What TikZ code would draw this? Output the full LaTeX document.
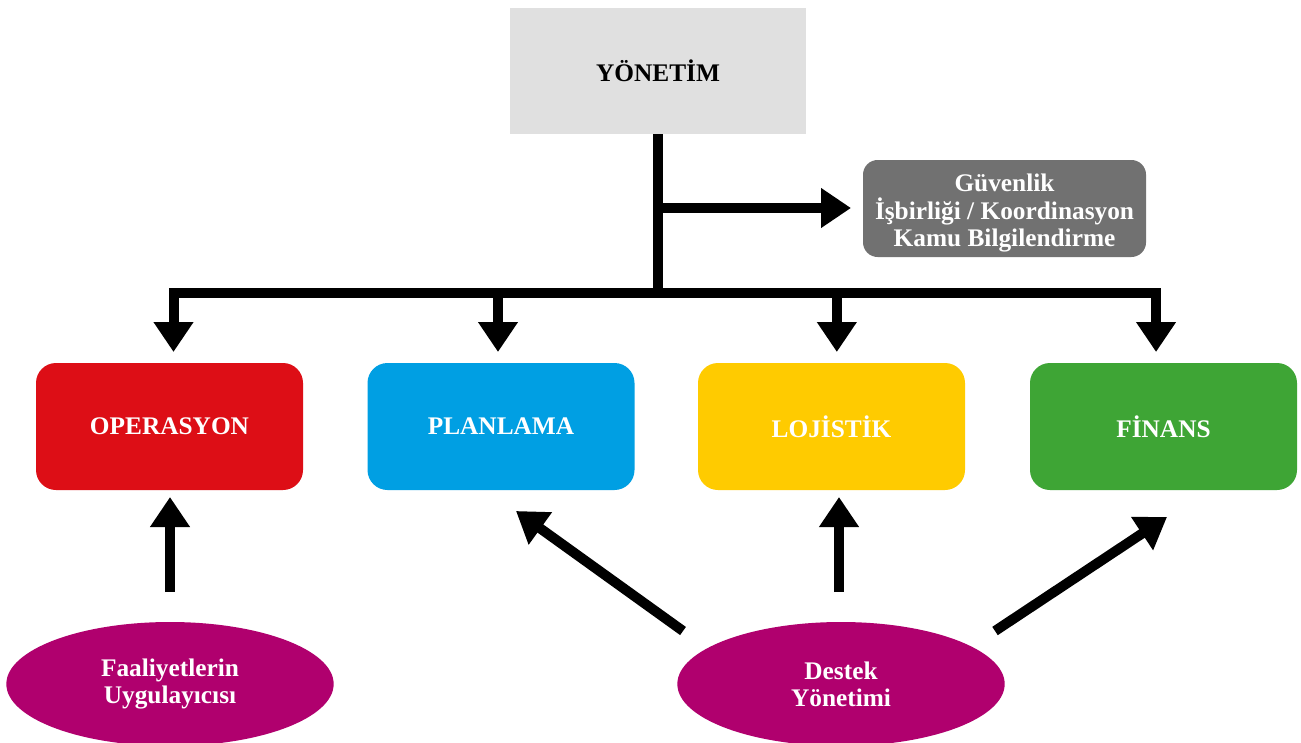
\documentclass[tikz,border=0pt]{standalone}
\usepackage{fontspec}
\setmainfont{Liberation Serif}
\usetikzlibrary{arrows.meta,shapes.geometric,calc}

\definecolor{headgray}{HTML}{E0E0E0}
\definecolor{staffgray}{HTML}{717171}
\definecolor{opsred}{HTML}{DD0E16}
\definecolor{planblue}{HTML}{009FE3}
\definecolor{logyellow}{HTML}{FFCB00}
\definecolor{fingreen}{HTML}{3EA535}
\definecolor{plum}{HTML}{B0006E}

\begin{document}
\begin{tikzpicture}[x=0.75pt,y=-0.75pt,
  lbl/.style={font=\fontsize{19}{20.5}\selectfont\bfseries, text=white, align=center,
              inner sep=0pt, outer sep=0pt},
  unit/.style={lbl, rounded corners=15pt, minimum width=200.25pt, minimum height=95.25pt},
  oval/.style={lbl, ellipse, fill=plum, minimum width=245.5pt, minimum height=93pt},
  bar/.style={line width=7.5pt, line join=miter},
  link/.style={bar, -{Triangle[length=22.5pt,width=28.5pt]}},
]
\useasboundingbox (0,0) rectangle (1301,742);
\fill[white] (0,0) rectangle (1301,742);

% head office
\node[lbl, text=black, fill=headgray, minimum width=222pt, minimum height=94.5pt]
  (yon) at (658,71) {YÖNETİM};

% staff functions: box and its three-line caption
\node[lbl, fill=staffgray, rounded corners=11pt, minimum width=212.25pt, minimum height=72.75pt]
  (staff) at (1004.5,208.5) {};
\node[lbl] (stafftext) at ([yshift=-3.5pt]staff.center)
  {Güvenlik\\İşbirliği / Koordinasyon\\Kamu Bilgilendirme};

% sections
\node[unit, fill=opsred]    (ops)  at (169.5,426.5)  {OPERASYON};
\node[unit, fill=planblue]  (plan) at (501,426.5)    {PLANLAMA};
\node[unit, fill=logyellow] (loj)  at (831.5,426.5)  {LOJİSTİK};
\node[unit, fill=fingreen]  (fin)  at (1163.5,426.5) {FİNANS};

% bottom groups
\node[oval] (fa) at (170,684) {Faaliyetlerin\\Uygulayıcısı};
\node[oval] (dm) at (841,684) {Destek\\Yönetimi};

% command tree
\coordinate (tap) at (658,208);
\coordinate (bus) at (658,293);
\draw[bar] (yon.south) -- (bus);
\draw[link, shorten >=9pt] (tap) -- (staff.west |- tap);
\draw[link, shorten >=8.25pt] (bus) -| ([xshift=3pt]ops.north);
\draw[link, shorten >=8.25pt] (bus) -| ([xshift=-2.25pt]plan.north);
\draw[link, shorten >=8.25pt] (bus) -| ([xshift=4pt]loj.north);
\draw[link, shorten >=8.25pt] (bus) -| ([xshift=-5.6pt]fin.north);

% support links
\draw[link, shorten <=22.5pt, shorten >=5.25pt] (fa.north) -- (fa.north |- ops.south);
\draw[link, shorten <=22.5pt, shorten >=5.25pt] ([xshift=-1.5pt]dm.north) -- ([xshift=-1.5pt]dm.north |- loj.south);
\draw[link] ($(dm.center)+(-158,-53)$) -- ($(plan.south)+(15,21)$);
\draw[link] ($(dm.center)+(154,-53)$) -- ($(fin.south)+(3.5,27)$);
\end{tikzpicture}
\end{document}
